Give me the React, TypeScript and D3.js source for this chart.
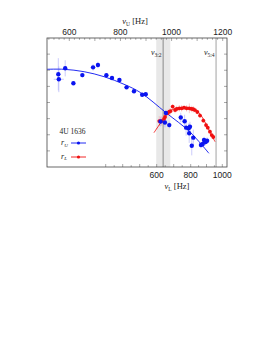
import React from "react";
import * as d3 from "d3";

// upper QPO (blue) amplitude vs nu_U
const upperNu = [557, 559, 584, 616, 651, 693, 712, 745, 767, 796, 824, 853, 885, 899, 957, 974, 978, 991, 1036, 1051, 1057, 1067, 1072, 1069, 1085, 1079, 1115, 1122, 1127, 1133, 1139];
const upperR = [5.75, 5.44, 6.12, 5.19, 5.7, 6.18, 6.33, 5.69, 5.52, 5.4, 4.94, 4.7, 4.48, 4.51, 2.82, 2.76, 3.35, 2.6, 3.07, 2.84, 2.44, 2.4, 2.5, 2.09, 1.82, 1.32, 1.36, 1.43, 1.67, 1.55, 1.63];
const upperErr = [1.0, 0.8, 0.5, 0.1, 0.15, 0.2, 0.2, 0.1, 0.1, 0.1, 0.1, 0.1, 0.1, 0.1, 0.3, 0.3, 0.2, 0.2, 0.3, 0.4, 0.5, 0.3, 0.3, 0.6, 0.5, 0.6, 0.2, 0.2, 0.2, 0.2, 0.2];
const upperXErr = [0, 20, 0, 0, 0, 0, 0, 0, 0, 0, 0, 0, 0, 0, 0, 0, 0, 0, 0, 0, 0, 0, 0, 0, 0, 0, 0, 0, 0, 0, 0];
const upperFitNu = [513, 579, 658, 736, 814, 879, 978, 1072, 1146];
const upperFitR = [6.06, 6.06, 5.91, 5.6, 5.13, 4.61, 3.37, 2.17, 0.85];

// lower QPO (red) amplitude vs nu_L
const lowerNu = [615, 629, 643, 649, 665, 674, 682, 694, 708, 718, 733, 747, 761, 776, 792, 806, 816, 827, 842, 859, 880, 897, 908, 922, 933, 943];
const lowerR = [2.85, 2.85, 2.98, 3.1, 3.35, 3.43, 3.47, 3.75, 3.53, 3.6, 3.64, 3.64, 3.68, 3.64, 3.64, 3.6, 3.58, 3.53, 3.41, 3.19, 2.88, 2.6, 2.44, 2.19, 1.98, 1.86];
const lowerErr = [0.3, 0.3, 0.3, 0.3, 0.2, 0.2, 0.2, 0.15, 0.2, 0.2, 0.2, 0.2, 0.15, 0.2, 0.3, 0.2, 0.2, 0.15, 0.15, 0.15, 0.15, 0.15, 0.15, 0.15, 0.15, 0.15];
const lowerFitNu = [584, 619, 649, 678, 708, 749, 790, 827, 859, 890, 922, 954];
const lowerFitR = [2.13, 2.67, 3.1, 3.47, 3.63, 3.7, 3.69, 3.57, 3.29, 2.79, 2.17, 1.57];

const topTicks = [600, 800, 1000, 1200];
const bottomTicks = [600, 800, 1000];
const resonance32 = { nuU: 967, bandLo: 940, bandHi: 995 };
const resonance54 = { nuU: 1174 };

const BLUE = "#0a14f0";
const RED = "#f01010";
const serif = "'Liberation Serif', 'DejaVu Serif', serif";
const sans = "'Liberation Sans', Arial, sans-serif";

export default function App() {
  const left = 47, right = 227, top = 38, bottom = 167;
  const xU = d3.scaleLinear().domain([600, 1200]).range([69.3, 222.7]);
  const xL = d3.scaleLinear().domain([600, 800, 1000]).range([156.7, 190.7, 222.3]);
  const y = d3.scaleLinear().domain([0, 8]).range([bottom, top]);

  const lineU = d3.line<number>().x((d, i) => xU(upperFitNu[i])).y((d) => y(d)).curve(d3.curveCatmullRom);
  const lineL = d3.line<number>().x((d, i) => xL(lowerFitNu[i])).y((d) => y(d)).curve(d3.curveCatmullRom);

  const topMinor = d3.range(520, 1220, 20).filter((v) => xU(v) > left && xU(v) < right);
  const bottomMinor = d3.range(300, 1050, 50).filter((v) => xL(v) > left + 1 && xL(v) < right);
  const yTicks = d3.range(1, 8);

  return (
    <svg width={262} height={339} style={{ position: "absolute", left: 0, top: 0, background: "#fff" }}>
      <defs>
        <clipPath id="plot">
          <rect x={left} y={top} width={right - left} height={bottom - top} />
        </clipPath>
      </defs>

      {/* 3:2 band and resonance lines */}
      <rect x={xU(resonance32.bandLo)} y={top} width={xU(resonance32.bandHi) - xU(resonance32.bandLo)} height={bottom - top} fill="#e8e8e8" />
      <line x1={xU(resonance32.nuU)} x2={xU(resonance32.nuU)} y1={top} y2={bottom} stroke="#8a8a8a" strokeWidth={1} />
      <line x1={xU(resonance54.nuU)} x2={xU(resonance54.nuU)} y1={top} y2={bottom} stroke="#8a8a8a" strokeWidth={0.8} />
      <text x={xU(resonance32.nuU) - 1.5} y={55} textAnchor="end" fontFamily={serif} fontSize={8} fill="#222">
        <tspan fontStyle="italic">ν</tspan>
        <tspan fontSize={5.5} dy={1.5}>3:2</tspan>
      </text>
      <text x={xU(resonance54.nuU) - 1.5} y={55} textAnchor="end" fontFamily={serif} fontSize={8} fill="#222">
        <tspan fontStyle="italic">ν</tspan>
        <tspan fontSize={5.5} dy={1.5}>5:4</tspan>
      </text>

      {/* ticks */}
      <g stroke="#555" strokeWidth={0.5}>
        {topMinor.map((v) => (
          <line key={"tm" + v} x1={xU(v)} x2={xU(v)} y1={top} y2={top + (v % 100 === 0 ? 3 : 1.8)} />
        ))}
        {bottomMinor.map((v) => (
          <line key={"bm" + v} x1={xL(v)} x2={xL(v)} y1={bottom} y2={bottom - (v % 100 === 0 ? 3 : 1.8)} />
        ))}
        {yTicks.map((v) => (
          <g key={"y" + v}>
            <line x1={left} x2={left + 3} y1={y(v)} y2={y(v)} />
            <line x1={right} x2={right - 3} y1={y(v)} y2={y(v)} />
          </g>
        ))}
      </g>

      <g clipPath="url(#plot)">
        {/* error bars */}
        <g stroke="#a8aaf8" strokeWidth={0.6}>
          {upperNu.map((nu, i) => (
            <g key={"ue" + i}>
              <line x1={xU(nu)} x2={xU(nu)} y1={y(upperR[i] - upperErr[i])} y2={y(upperR[i] + upperErr[i])} />
              {upperXErr[i] > 0 && (
                <line x1={xU(nu - upperXErr[i])} x2={xU(nu + upperXErr[i])} y1={y(upperR[i])} y2={y(upperR[i])} />
              )}
            </g>
          ))}
        </g>
        <g stroke="#f8a8a8" strokeWidth={0.6}>
          {lowerNu.map((nu, i) => (
            <line key={"le" + i} x1={xL(nu)} x2={xL(nu)} y1={y(lowerR[i] - lowerErr[i])} y2={y(lowerR[i] + lowerErr[i])} />
          ))}
        </g>

        <path d={lineU(upperFitR) || ""} fill="none" stroke={BLUE} strokeWidth={0.9} />
        <path d={lineL(lowerFitR) || ""} fill="none" stroke={RED} strokeWidth={0.9} />

        {lowerNu.map((nu, i) => (
          <circle key={"lp" + i} cx={xL(nu)} cy={y(lowerR[i])} r={1.9} fill={RED} />
        ))}
        {upperNu.map((nu, i) => (
          <circle key={"up" + i} cx={xU(nu)} cy={y(upperR[i])} r={2.2} fill={BLUE} />
        ))}
      </g>

      <rect x={left} y={top} width={right - left} height={bottom - top} fill="none" stroke="#444" strokeWidth={0.8} />

      {/* tick labels */}
      {topTicks.map((v) => (
        <text key={"tl" + v} x={xU(v)} y={35} textAnchor="middle" fontFamily={sans} fontSize={8.5} fill="#222">
          {v}
        </text>
      ))}
      {bottomTicks.map((v) => (
        <text key={"bl" + v} x={xL(v)} y={178} textAnchor="middle" fontFamily={sans} fontSize={8.5} fill="#222">
          {v}
        </text>
      ))}
      <text x={135} y={24} textAnchor="middle" fontFamily={serif} fontSize={8.5} fill="#222">
        <tspan fontStyle="italic">ν</tspan>
        <tspan fontSize={5.5} dy={1.5}>U</tspan>
        <tspan dy={-1.5}> [Hz]</tspan>
      </text>
      <text x={177} y={189} textAnchor="middle" fontFamily={serif} fontSize={8.5} fill="#222">
        <tspan fontStyle="italic">ν</tspan>
        <tspan fontSize={5.5} dy={1.5}>L</tspan>
        <tspan dy={-1.5}> [Hz]</tspan>
      </text>

      {/* legend */}
      <text x={59.5} y={134} fontFamily={serif} fontSize={7.5} fill="#222">4U 1636</text>
      <text x={61} y={145} fontFamily={serif} fontSize={8} fill="#222">
        <tspan fontStyle="italic">r</tspan>
        <tspan fontSize={5} dy={1.5} fontStyle="italic">U</tspan>
      </text>
      <line x1={71} x2={86} y1={143} y2={143} stroke={BLUE} strokeWidth={0.9} />
      <circle cx={78.5} cy={143} r={1.6} fill={BLUE} />
      <text x={61} y={158.5} fontFamily={serif} fontSize={8} fill="#222">
        <tspan fontStyle="italic">r</tspan>
        <tspan fontSize={5} dy={1.5} fontStyle="italic">L</tspan>
      </text>
      <line x1={71} x2={86} y1={157} y2={157} stroke={RED} strokeWidth={0.9} />
      <circle cx={78.5} cy={157} r={1.6} fill={RED} />
    </svg>
  );
}
